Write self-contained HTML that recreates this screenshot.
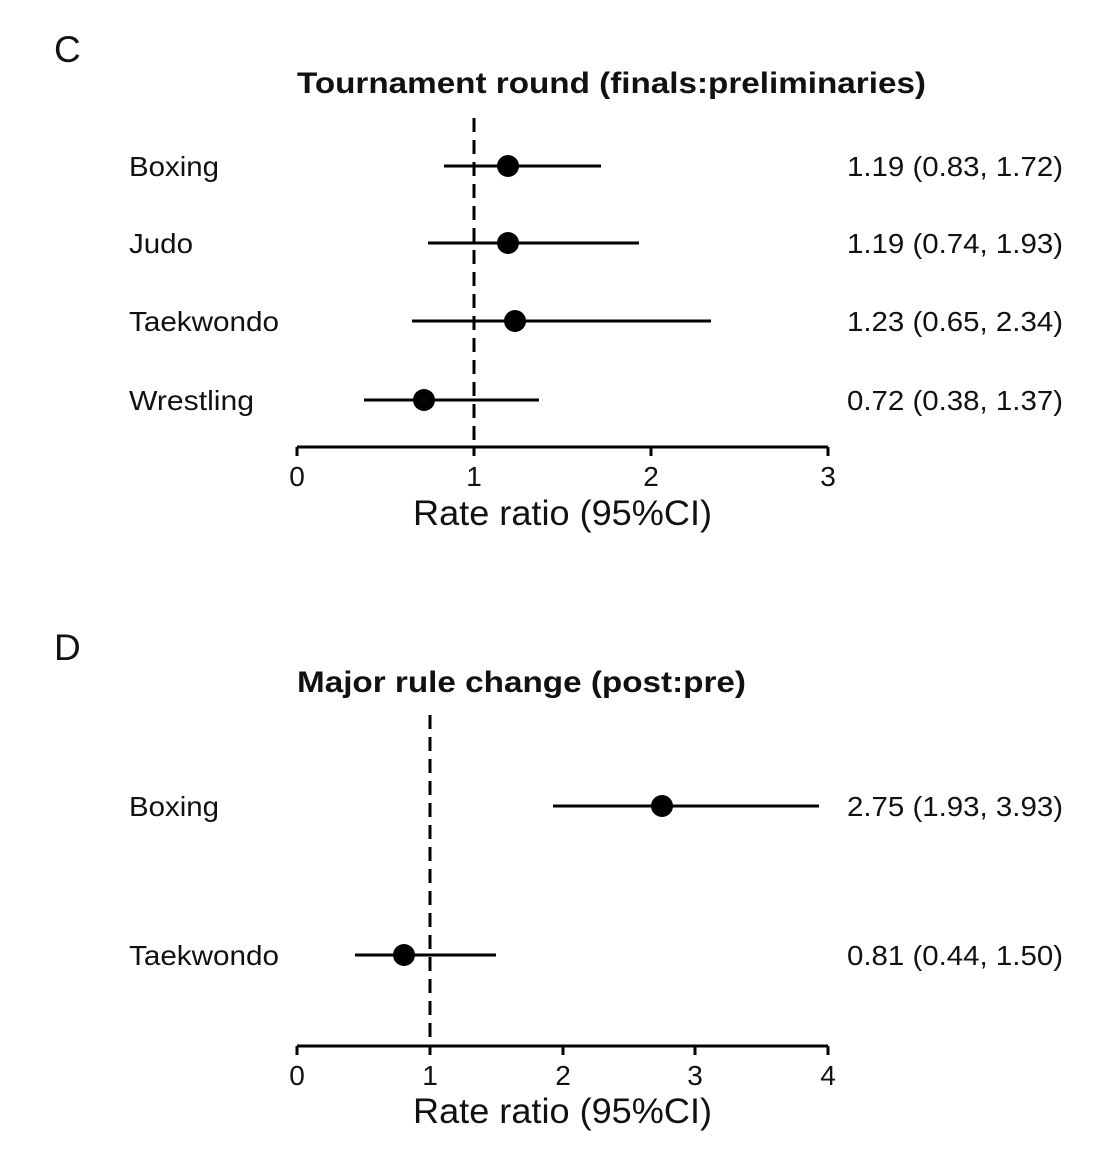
<!DOCTYPE html>
<html><head><meta charset="utf-8"><style>body{margin:0;background:#fff}svg{display:block}text{font-family:"Liberation Sans",sans-serif;fill:#111}</style></head><body>
<svg width="1110" height="1160" xmlns="http://www.w3.org/2000/svg">
<g stroke="#000" stroke-width="3" fill="none">
<line x1="474" y1="118" x2="474" y2="446" stroke-dasharray="14,8"/>
<line x1="297" y1="447" x2="828" y2="447"/>
<line x1="297" y1="447" x2="297" y2="456"/><line x1="474" y1="447" x2="474" y2="456"/><line x1="651" y1="447" x2="651" y2="456"/><line x1="828" y1="447" x2="828" y2="456"/>
<line x1="444" y1="166" x2="601" y2="166"/>
<line x1="428" y1="243" x2="639" y2="243"/>
<line x1="412" y1="321" x2="711" y2="321"/>
<line x1="364" y1="400" x2="539" y2="400"/>
<line x1="430" y1="715" x2="430" y2="1045" stroke-dasharray="14,8"/>
<line x1="297" y1="1046" x2="828" y2="1046"/>
<line x1="297" y1="1046" x2="297" y2="1055"/><line x1="430" y1="1046" x2="430" y2="1055"/><line x1="563" y1="1046" x2="563" y2="1055"/><line x1="695" y1="1046" x2="695" y2="1055"/><line x1="828" y1="1046" x2="828" y2="1055"/>
<line x1="553" y1="806" x2="819" y2="806"/>
<line x1="355" y1="955" x2="496" y2="955"/>
</g>
<g fill="#000">
<circle cx="508" cy="166" r="11"/><circle cx="508" cy="243" r="11"/><circle cx="515" cy="321" r="11"/><circle cx="424" cy="400" r="11"/>
<circle cx="662" cy="806" r="11"/><circle cx="404" cy="955" r="11"/>
</g>
<text x="54" y="62" font-size="37">C</text>
<text x="54" y="660" font-size="37">D</text>
<text x="297" y="93" font-size="30" font-weight="bold" textLength="629" lengthAdjust="spacingAndGlyphs">Tournament round (finals:preliminaries)</text>
<text x="297" y="692" font-size="30" font-weight="bold" textLength="449" lengthAdjust="spacingAndGlyphs">Major rule change (post:pre)</text>
<g font-size="28">
<text x="129" y="176" textLength="90" lengthAdjust="spacingAndGlyphs">Boxing</text>
<text x="129" y="253" textLength="64" lengthAdjust="spacingAndGlyphs">Judo</text>
<text x="129" y="331" textLength="150" lengthAdjust="spacingAndGlyphs">Taekwondo</text>
<text x="129" y="410" textLength="125" lengthAdjust="spacingAndGlyphs">Wrestling</text>
<text x="129" y="816" textLength="90" lengthAdjust="spacingAndGlyphs">Boxing</text>
<text x="129" y="965" textLength="150" lengthAdjust="spacingAndGlyphs">Taekwondo</text>
</g>
<g font-size="28">
<text x="847" y="176" textLength="216" lengthAdjust="spacingAndGlyphs">1.19 (0.83, 1.72)</text>
<text x="847" y="253" textLength="216" lengthAdjust="spacingAndGlyphs">1.19 (0.74, 1.93)</text>
<text x="847" y="331" textLength="216" lengthAdjust="spacingAndGlyphs">1.23 (0.65, 2.34)</text>
<text x="847" y="410" textLength="216" lengthAdjust="spacingAndGlyphs">0.72 (0.38, 1.37)</text>
<text x="847" y="816" textLength="216" lengthAdjust="spacingAndGlyphs">2.75 (1.93, 3.93)</text>
<text x="847" y="965" textLength="216" lengthAdjust="spacingAndGlyphs">0.81 (0.44, 1.50)</text>
</g>
<g font-size="28" text-anchor="middle">
<text x="297" y="486">0</text><text x="474" y="486">1</text><text x="651" y="486">2</text><text x="828" y="486">3</text>
<text x="297" y="1085">0</text><text x="430" y="1085">1</text><text x="563" y="1085">2</text><text x="695" y="1085">3</text><text x="828" y="1085">4</text>
</g>
<g font-size="35">
<text x="413" y="525" textLength="299" lengthAdjust="spacingAndGlyphs">Rate ratio (95%CI)</text>
<text x="413" y="1123" textLength="299" lengthAdjust="spacingAndGlyphs">Rate ratio (95%CI)</text>
</g>
</svg>
</body></html>
